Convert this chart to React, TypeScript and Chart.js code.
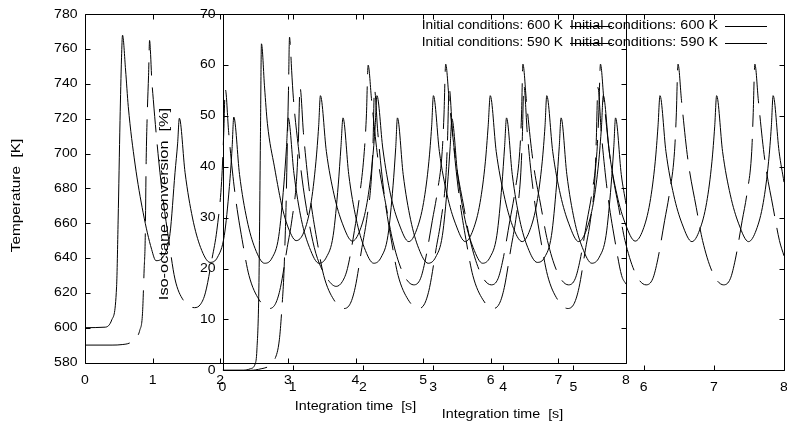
import React, { useEffect, useRef } from "react";
import { Chart, registerables } from "chart.js";

Chart.register(...registerables);

// ---------------- data ----------------
const timeTicks = [0, 1, 2, 3, 4, 5, 6, 7, 8];
const temperatureTicks = [580, 600, 620, 640, 660, 680, 700, 720, 740, 760, 780];
const conversionTicks = [0, 10, 20, 30, 40, 50, 60, 70];
const seriesNames = ["Initial conditions: 600 K", "Initial conditions: 590 K"];
const timeAxisTitle = "Integration time  [s]";
const temperatureAxisTitle = "Temperature  [K]";
const conversionAxisTitle = "Iso-octane conversion  [%]";

// 600 K run
const time600 = [
  0, 0.3, 0.395, 0.467, 0.49, 0.518, 0.54, 0.555,
  0.6, 0.64, 0.74, 0.86, 0.985, 1.05,
  1.16, 1.257, 1.331, 1.37, 1.395,
  1.48, 1.59, 1.71, 1.85, 1.96, 2.06, 2.135, 2.175, 2.2,
  2.285, 2.395, 2.515, 2.655, 2.765, 2.865, 2.94, 2.98, 3.005,
  3.09, 3.2, 3.32, 3.46, 3.57, 3.67, 3.745, 3.785, 3.815,
  3.9, 4.01, 4.13, 4.27, 4.38, 4.48, 4.555, 4.595, 4.62,
  4.705, 4.815, 4.935, 5.075, 5.185, 5.285, 5.36, 5.4, 5.425,
  5.51, 5.62, 5.74, 5.88, 5.99, 6.09, 6.165, 6.205, 6.233,
  6.318, 6.428, 6.548, 6.688, 6.798, 6.898, 6.973, 7.013, 7.04,
  7.125, 7.235, 7.355, 7.495, 7.605, 7.705, 7.78, 7.82, 7.845,
  7.93, 8,
];
const temperature600 = [
  600, 600.3, 604.4, 623.5, 661.8, 719, 755, 768,
  748, 727, 694, 666, 645, 638.5,
  641, 654, 689, 706, 720.3,
  689, 663, 646, 637.5, 640.5, 653, 681, 703, 721,
  688, 662, 645.5, 637, 640, 652.5, 682, 704, 720.5,
  688.5, 662, 646, 637, 640.5, 653, 682, 704, 720.5,
  688, 662.5, 646, 637, 640.5, 653, 681.5, 703.5, 720.5,
  688, 662, 645.5, 637, 640.5, 653, 682, 704, 720,
  688, 662, 646, 637, 640.5, 653, 682, 704, 720.5,
  688, 662, 646, 637.5, 640.5, 653, 682, 704, 720.5,
  688, 662, 646, 637, 640.5, 653, 682, 704, 720.5,
  688, 671,
];
const conversion600 = [
  0, 0, 0.3, 1.3, 4, 16, 45, 64.2,
  55.5, 48.5, 40, 31.5, 26.5, 25.5,
  27.2, 32.5, 41, 48, 54,
  43, 34.5, 28.8, 25.4, 27.6, 33, 41, 48, 54,
  43.5, 34.5, 28.8, 25.3, 27.6, 33, 41, 48, 54,
  43, 34.5, 28.8, 25.3, 27.6, 33, 41, 48, 54,
  43, 34.5, 28.5, 25.3, 27.6, 33, 41, 48, 54,
  43, 34.5, 28.8, 25.3, 27.6, 33, 41, 48, 54,
  43, 34.5, 28.8, 25.4, 27.6, 33, 41, 48, 54,
  43, 34.5, 28.8, 25.3, 27.6, 33, 41, 48, 54,
  43, 34.5, 28.8, 25.3, 27.6, 33, 41, 48, 54,
  43, 37,
];

// 590 K run
const time590 = [
  0, 0.4, 0.55, 0.66, 0.74, 0.81, 0.85, 0.875, 0.89, 0.905, 0.92, 0.94, 0.955,
  0.97, 0.985, 1.01, 1.08, 1.15, 1.24, 1.33, 1.45, 1.62,
  1.71, 1.78, 1.88, 1.95, 2.02, 2.05, 2.075,
  2.125, 2.215, 2.335, 2.425, 2.575, 2.725, 2.82, 2.89, 2.99, 3.06, 3.13, 3.155, 3.18,
  3.23, 3.32, 3.44, 3.53, 3.68, 3.83, 3.925, 3.995, 4.095, 4.165, 4.235, 4.26, 4.28,
  4.33, 4.42, 4.54, 4.63, 4.78, 4.93, 5.025, 5.095, 5.195, 5.265, 5.335, 5.36, 5.385,
  5.435, 5.525, 5.645, 5.735, 5.885, 6.035, 6.13, 6.2, 6.3, 6.37, 6.44, 6.465, 6.49,
  6.54, 6.63, 6.75, 6.84, 6.99, 7.14, 7.235, 7.305, 7.405, 7.475, 7.54, 7.56, 7.585,
  7.635, 7.725, 7.845, 7.935, 8,
];
const temperature590 = [
  590, 590, 590.3, 591.2, 593.5, 598.5, 608, 634, 650, 697, 722, 745, 765,
  757, 744, 731, 700, 675, 650, 628, 616, 611.5,
  613.5, 620, 640, 656, 684, 710, 737,
  712, 678, 648, 630, 616, 611, 614, 623, 646, 662, 686, 707, 738,
  712, 678, 648, 630, 616, 611, 614, 623, 646, 662, 686, 707, 737,
  712, 678, 648, 630, 616, 611, 614, 623, 646, 662, 686, 707, 738,
  712, 678, 648, 630, 616, 611, 614, 623, 646, 662, 686, 707, 739,
  712, 678, 648, 630, 616, 611, 614, 623, 646, 662, 686, 707, 738,
  712, 678, 648, 630, 625,
];
const conversion590 = [
  0, 0, 0.3, 0.8, 2, 6, 13, 19, 25, 32, 42, 55, 65.5,
  63, 59, 53.5, 44, 36, 28.5, 23, 19, 16.5,
  17.5, 20, 27.5, 34, 43, 50, 60,
  53, 41.5, 32, 25.5, 19, 16.8, 18, 21.7, 29.5, 35, 43, 50, 60.2,
  53, 41.5, 32, 25.5, 19, 16.8, 18, 21.7, 29.5, 35, 43, 50, 60.2,
  53, 41.5, 32, 25.5, 19, 16.8, 18, 21.7, 29.5, 35, 43, 50, 60.2,
  53, 41.5, 32, 25.5, 19, 16.8, 18, 21.7, 29.5, 35, 43, 50, 60.2,
  53, 41.5, 32, 25.5, 19, 16.8, 18, 21.7, 29.5, 35, 43, 50, 60.2,
  53, 41.5, 32, 25.5, 22.5,
];

// ---------------- styling / layout ----------------
const W = 787;
const H = 427;
const FONT = '"Liberation Sans", Arial, Helvetica, sans-serif';
const DASH = [45, 12];

type TextFont = { size: number; sx: number };

function drawText(
  ctx: CanvasRenderingContext2D,
  text: string,
  x: number,
  y: number,
  f: TextFont,
  align: CanvasTextAlign,
  rot = 0
) {
  ctx.save();
  ctx.translate(x, y);
  if (rot) ctx.rotate(rot);
  ctx.scale(f.sx, 1);
  ctx.font = `${f.size}px ${FONT}`;
  ctx.textAlign = align;
  ctx.textBaseline = "middle";
  ctx.fillStyle = "#000";
  ctx.fillText(text, 0, 0);
  ctx.restore();
}

const gpDecor = {
  id: "gpDecor",
  afterDraw(chart: any, _args: any, o: any) {
    const { ctx, chartArea: a } = chart;
    const xs = chart.scales.x;
    const ys = chart.scales.y;
    const L = Math.round(a.left) + 0.5;
    const R = Math.round(a.right) + 0.5;
    const T = Math.round(a.top) + 0.5;
    const B = Math.round(a.bottom) + 0.5;
    ctx.save();
    ctx.strokeStyle = "#000";
    ctx.lineWidth = 1;
    ctx.setLineDash([]);
    ctx.beginPath();
    ctx.rect(L, T, R - L, B - T);
    const tl = o.tickLen;
    for (const t of xs.ticks) {
      const px = Math.round(xs.getPixelForValue(t.value)) + 0.5;
      ctx.moveTo(px, B);
      ctx.lineTo(px, B - tl);
      ctx.moveTo(px, T);
      ctx.lineTo(px, T + tl);
    }
    for (const t of ys.ticks) {
      const py = Math.round(ys.getPixelForValue(t.value)) + 0.5;
      ctx.moveTo(L, py);
      ctx.lineTo(L + tl, py);
      ctx.moveTo(R, py);
      ctx.lineTo(R - tl, py);
    }
    ctx.stroke();

    for (const t of ys.ticks) {
      drawText(ctx, String(t.value), a.left - o.yLabelGap, ys.getPixelForValue(t.value), o.tickFont, "right");
    }
    for (const t of xs.ticks) {
      drawText(ctx, String(t.value), xs.getPixelForValue(t.value), o.xLabelY, o.tickFont, "center");
    }
    drawText(ctx, o.xTitle.text, o.xTitle.x, o.xTitle.y, o.xTitle.font, "center");
    drawText(ctx, o.yTitle.text, o.yTitle.x, o.yTitle.y, o.yTitle.font, "center", -Math.PI / 2);

    chart.data.datasets.forEach((ds: any, i: number) => {
      const y = o.legend.rows[i];
      drawText(ctx, ds.label, o.legend.textRight, y, o.legend.font, "right");
      ctx.beginPath();
      ctx.setLineDash(ds.borderDash || []);
      const ly = Math.round(y) + 0.5;
      ctx.moveTo(o.legend.lineStart, ly);
      ctx.lineTo(o.legend.lineEnd, ly);
      ctx.stroke();
    });
    ctx.restore();
  },
};

function pts(xs: number[], ys: number[]) {
  return xs.map((x, i) => ({ x, y: ys[i] }));
}

function makeConfig(p: any): any {
  return {
    type: "line",
    data: {
      datasets: [
        {
          label: seriesNames[0],
          data: pts(time600, p.series600),
          borderColor: "#000",
          borderWidth: 1,
          pointRadius: 0,
          fill: false,
          cubicInterpolationMode: "monotone",
        },
        {
          label: seriesNames[1],
          data: pts(time590, p.series590),
          borderColor: "#000",
          borderWidth: 1,
          borderDash: DASH,
          pointRadius: 0,
          fill: false,
          cubicInterpolationMode: "monotone",
        },
      ],
    },
    options: {
      responsive: false,
      animation: false,
      devicePixelRatio: 1,
      events: [],
      layout: { padding: { left: 0, top: p.area.top, right: W - p.area.right, bottom: 0 } },
      plugins: {
        legend: { display: false },
        tooltip: { enabled: false },
        title: { display: false },
        gpDecor: p.decor,
      },
      scales: {
        x: {
          type: "linear",
          min: 0,
          max: 8,
          grid: { display: false },
          border: { display: false },
          ticks: { display: false },
          afterBuildTicks: (s: any) => {
            s.ticks = timeTicks.map((v) => ({ value: v }));
          },
          afterFit: (s: any) => {
            s.height = H - p.area.bottom;
          },
        },
        y: {
          type: "linear",
          min: p.yTicks[0],
          max: p.yTicks[p.yTicks.length - 1],
          grid: { display: false },
          border: { display: false },
          ticks: { display: false },
          afterBuildTicks: (s: any) => {
            s.ticks = p.yTicks.map((v: number) => ({ value: v }));
          },
          afterFit: (s: any) => {
            s.width = p.area.left;
          },
        },
      },
    },
    plugins: [gpDecor],
  };
}

const tickFont = { size: 12, sx: 1.17 };
const xTitleFont = { size: 12, sx: 1.19 };

const temperaturePanel = {
  area: { left: 85, right: 626, top: 14.3, bottom: 362.5 },
  yTicks: temperatureTicks,
  series600: temperature600,
  series590: temperature590,
  decor: {
    tickLen: 5,
    tickFont,
    yLabelGap: 7.5,
    xLabelY: 380.5,
    xTitle: { text: timeAxisTitle, x: 355.5, y: 407, font: xTitleFont },
    yTitle: { text: temperatureAxisTitle, x: 17, y: 195.5, font: { size: 12, sx: 1.28 } },
    legend: { font: { size: 12, sx: 1.145 }, textRight: 563, rows: [26, 43], lineStart: 570, lineEnd: 612 },
  },
};

const conversionPanel = {
  area: { left: 222.5, right: 784, top: 14.3, bottom: 370.3 },
  yTicks: conversionTicks,
  series600: conversion600,
  series590: conversion590,
  decor: {
    tickLen: 5,
    tickFont,
    yLabelGap: 7,
    xLabelY: 387.5,
    xTitle: { text: timeAxisTitle, x: 502.5, y: 415, font: xTitleFont },
    yTitle: { text: conversionAxisTitle, x: 165, y: 204, font: { size: 12, sx: 1.36 } },
    legend: { font: { size: 12, sx: 1.2 }, textRight: 718, rows: [26, 43], lineStart: 725, lineEnd: 767 },
  },
};

export default function App() {
  const ref1 = useRef<HTMLCanvasElement>(null);
  const ref2 = useRef<HTMLCanvasElement>(null);
  useEffect(() => {
    const c1 = new Chart(ref1.current as HTMLCanvasElement, makeConfig(temperaturePanel));
    const c2 = new Chart(ref2.current as HTMLCanvasElement, makeConfig(conversionPanel));
    return () => {
      c1.destroy();
      c2.destroy();
    };
  }, []);
  const cs: React.CSSProperties = { position: "absolute", left: 0, top: 0, display: "block" };
  return (
    <div style={{ position: "absolute", left: 0, top: 0, width: W, height: H, background: "#fff" }}>
      <canvas ref={ref1} width={W} height={H} style={cs} />
      <canvas ref={ref2} width={W} height={H} style={cs} />
    </div>
  );
}
